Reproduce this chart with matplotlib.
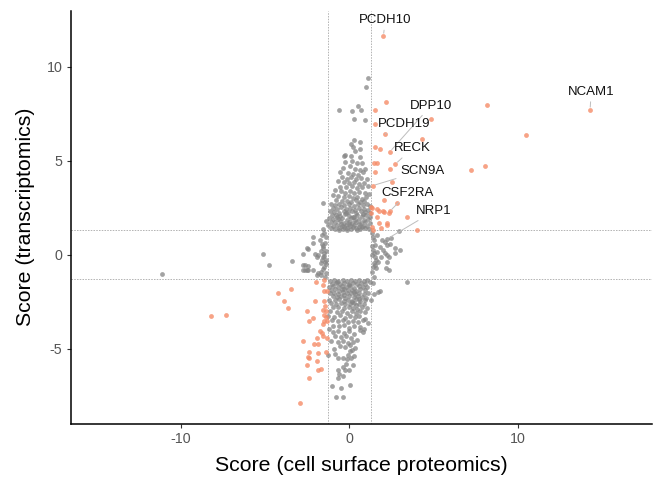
import matplotlib
matplotlib.use("Agg")
import matplotlib.pyplot as plt
import numpy as np

# ---------------- data ----------------
# Non-significant / discordant genes (grey)
grey_x = [
    # upper cluster
    1.11, 0.99, 0.51, -0.64, 0.14, 0.69, 0.27, 0.95, 0.27, 0.63, 0.08, 0.20, 0.35, 0.63, -0.24, 0.11, 0.63, -0.30,
    -0.26, 0.14, 0.43, 0.73, 0.04, -0.36, 0.33, 0.63, 0.93, -0.56, -0.10, 0.22, 0.50, 0.83,
    -0.46, -0.16, 0.10, 0.40, 0.70, 1.03, -0.70, -0.30, 0.00, 0.28, 0.55, 0.85, -0.55, -0.20, 0.15, 0.45, 0.75, 1.10,
    -0.85, -0.50, -0.25, 0.05, 0.30, 0.58, 0.90, 1.18, -0.95, -0.65, -0.35, -0.05, 0.20, 0.48, 0.72, 1.00,
    -0.78, -0.45, -0.15, 0.12, 0.38, 0.62, 0.88,
    -1.10, -0.85, -0.60, -0.30, -0.05, 0.25, 0.50, 0.78, 1.05, 1.22, -1.00, -0.72, -0.48, -0.20, 0.05, 0.32, 0.58, 0.85, 1.12,
    -1.18, -0.90, -0.62, -0.35, -0.10, 0.15, 0.42, 0.68, 0.95, 1.25,
    -1.05, -0.80, -0.55, -0.28, -0.02, 0.22, 0.48, 0.72, 1.00, 1.20, -1.22, -0.95, -0.68, -0.42, -0.15, 0.10, 0.35, 0.60, 0.88, 1.12,
    -1.10, -0.85, -0.58, -0.32, -0.05, 0.18, 0.42, 0.70, 0.95, 1.22, -1.25, -0.98, -0.72, -0.45, -0.20, 0.05, 0.28, 0.55, 0.80, 1.05,
    -1.12, -0.88, -0.62, -0.38, -0.12, 0.12, 0.38, 0.65, 0.90, 1.18,
    -0.50, 0.00, 0.30, -0.22, 0.58, -0.75, 0.82, -0.35, 0.45, -0.15, 0.20, -0.60, 0.75,
    -1.55, -1.59, -1.42,
    # middle band, left
    -11.12, -5.12, -4.78, -3.41, -2.74, -2.18, -2.48, -2.74, -2.44, -2.66, -2.44,
    -1.75, -1.65, -1.59, -1.51, -1.59, -1.45, -1.51, -1.85, -1.71, -2.04, -1.85, -1.94, -1.69, -1.39,
    -1.40, -1.48, -1.62, -1.45, -1.55, -1.42, -1.68, -1.48, -1.62, -1.42, -1.55, -1.40, -1.70, -1.45,
    -2.50, -1.94, -2.14, -2.64, -2.50, -2.74, -2.14,
    # middle band, right
    1.32, 1.46, 1.52, 1.38, 1.46, 1.32, 1.62, 1.58, 1.46, 1.72, 1.38, 1.58, 1.46,
    1.92, 2.12, 2.21, 2.01, 2.12, 2.25, 2.37, 2.25, 2.17, 2.37, 2.49, 2.41, 2.73, 3.01, 2.71, 2.97, 2.21,
    1.40, 1.35, 1.55, 1.35, 1.62, 1.80, 1.85, 1.50,
    # lower cluster
    -1.15, -0.90, -0.65, -0.40, -0.15, 0.10, 0.35, 0.60, 0.85, 1.05, -1.05, -0.80, -0.55, -0.30, -0.05, 0.20, 0.45, 0.70, 0.95, 1.20,
    -1.20, -0.95, -0.70, -0.45, -0.20, 0.05, 0.30, 0.55, 0.80, 1.02, -1.10, -0.85, -0.60, -0.35, -0.10, 0.15, 0.40, 0.65, 0.90,
    -1.15, -0.90, -0.65, -0.40, -0.15, 0.10, 0.35, 0.60, 0.85, 1.10, -1.00, -0.75, -0.50, -0.25, 0.00, 0.25, 0.50, 0.75, 1.00,
    -1.20, -0.85, -0.60, -0.35, -0.10, 0.15, 0.40, 0.65, 0.90, 1.26,
    -1.10, -0.80, -0.50, -0.25, 0.05, 0.30, 0.55, 0.85, -0.95, -0.65, -0.35, -0.05, 0.20, 0.45, 0.75, 1.05,
    -1.15, -0.75, -0.45, -0.15, 0.15, 0.40, 0.65, 0.95,
    -1.25, -0.90, -0.55, -0.25, 0.05, 0.35, 0.60, 0.90, -1.05, -0.70, -0.40, -0.10, 0.20, 0.50, 0.80, 1.12,
    -0.95, -0.60, -0.30, 0.00, 0.30, 0.62, -1.20, 0.85,
    -1.00, -0.65, -0.35, -0.05, 0.25, 0.63, 0.79, -0.85, -0.50, -0.20, 0.10, 0.43, -1.10, -0.70, -0.40, -0.10, 0.20,
    -0.55, -0.25, 0.05, 0.35, -0.90, 0.14, 0.04,
    -1.25, -0.06, -0.66, -0.40, -0.16, 0.08, -0.20, -0.40, 0.23, -0.66, -0.26, -0.01, -0.60, -0.36, -0.66,
    -1.05, -0.50, 0.04, -0.80, -0.40, -0.85, 0.30,
    -0.02, 0.30, -0.30, 0.55, -0.75, 0.15, -0.45, 0.40,
    # lower right
    1.68, 3.40, 1.82, 1.40, 1.45,
]
grey_y = [
    # upper cluster
    9.41, 8.94, 7.91, 7.70, 7.64, 7.70, 7.23, 7.16, 6.10, 6.01, 5.89, 5.74, 5.53, 5.61, 5.29, 5.25, 5.21, 5.27,
    4.95, 4.98, 4.85, 4.90, 4.70, 4.62, 4.55, 4.50, 4.58, 4.40, 4.35, 4.30, 4.25, 4.38,
    4.15, 4.05, 4.12, 4.00, 4.08, 4.02, 3.90, 3.85, 3.80, 3.88, 3.75, 3.80, 3.62, 3.58, 3.65, 3.55, 3.60, 3.66,
    3.42, 3.38, 3.30, 3.40, 3.28, 3.35, 3.30, 3.22, 3.15, 3.10, 3.05, 3.12, 3.00, 3.08, 2.98, 3.05,
    2.90, 2.85, 2.88, 2.82, 2.92, 2.80, 2.86,
    2.70, 2.65, 2.72, 2.62, 2.68, 2.60, 2.70, 2.64, 2.72, 2.58, 2.48, 2.45, 2.52, 2.42, 2.50, 2.40, 2.48, 2.44, 2.38,
    2.30, 2.28, 2.24, 2.32, 2.26, 2.34, 2.22, 2.30, 2.25, 2.20,
    2.12, 2.10, 2.05, 2.15, 2.08, 2.02, 2.12, 2.06, 2.10, 2.00, 1.95, 1.92, 1.88, 1.96, 1.86, 1.94, 1.85, 1.92, 1.86, 1.90,
    1.76, 1.72, 1.78, 1.70, 1.75, 1.68, 1.74, 1.70, 1.76, 1.68, 1.58, 1.55, 1.60, 1.52, 1.58, 1.50, 1.56, 1.48, 1.55, 1.52,
    1.40, 1.38, 1.42, 1.36, 1.44, 1.37, 1.42, 1.35, 1.40, 1.37,
    1.62, 1.62, 1.98, 2.22, 1.62, 2.00, 2.18, 1.47, 1.32, 1.33, 1.45, 1.32, 1.45,
    2.73, 1.37, 1.80,
    # middle band, left
    -1.01, 0.02, -0.55, -0.35, 0.04, 0.93, 0.32, -0.56, -0.59, -0.81, -0.81,
    0.78, 0.57, 0.34, 0.07, -0.14, -0.37, -0.64, -0.99, -0.90, 0.02, -0.02, -0.14, -0.43, -0.28,
    0.95, 1.15, 1.05, 0.62, 0.45, 0.20, 0.20, -0.05, -0.30, -0.52, -0.78, -0.95, -1.10, -1.18,
    0.34, -1.08, -0.81, -0.55, -0.81, -0.81, 0.60,
    # middle band, right
    1.14, 0.78, 0.52, 0.25, 0.07, -0.02, 0.16, -0.28, -0.46, -0.37, -0.64, -0.72, -1.20,
    0.78, 0.69, 0.52, 0.25, 0.07, -0.02, -0.14, -0.37, -0.72, -0.81, 0.87, 0.57, 0.34, 0.25, 0.07, 1.26, 0.82,
    0.95, 0.45, -0.10, -0.90, 1.05, 0.40, -0.15, -0.55,
    # lower cluster
    -1.38, -1.35, -1.40, -1.36, -1.42, -1.35, -1.40, -1.37, -1.42, -1.36, -1.55, -1.52, -1.58, -1.50, -1.56, -1.52, -1.58, -1.50, -1.55, -1.48,
    -1.70, -1.68, -1.74, -1.66, -1.72, -1.68, -1.75, -1.66, -1.72, -1.70, -1.88, -1.85, -1.92, -1.84, -1.90, -1.86, -1.93, -1.85, -1.90,
    -2.05, -2.02, -2.08, -2.00, -2.06, -2.02, -2.10, -2.03, -2.08, -2.05, -2.22, -2.25, -2.18, -2.28, -2.20, -2.26, -2.18, -2.24, -2.30,
    -2.40, -2.42, -2.38, -2.45, -2.40, -2.46, -2.38, -2.44, -2.40, -2.41,
    -2.58, -2.62, -2.55, -2.65, -2.60, -2.56, -2.64, -2.60, -2.80, -2.78, -2.84, -2.76, -2.82, -2.88, -2.80, -2.85,
    -3.00, -3.05, -2.98, -3.08, -3.02, -3.10, -3.00, -3.06,
    -3.25, -3.30, -3.22, -3.35, -3.28, -3.32, -3.25, -3.40, -3.50, -3.55, -3.48, -3.60, -3.52, -3.58, -3.50, -3.65,
    -3.78, -3.82, -3.75, -3.88, -3.80, -3.85, -3.95, -3.98,
    -4.10, -4.05, -4.15, -4.08, -4.20, -4.02, -4.10, -4.35, -4.40, -4.32, -4.45, -4.54, -4.60, -4.65, -4.58, -4.70, -4.62,
    -4.85, -4.90, -4.82, -4.95, -5.00, -5.07, -5.12,
    -5.34, -5.34, -5.51, -5.51, -5.55, -5.51, -5.83, -5.96, -5.87, -6.13, -6.13, -6.13, -6.36, -6.44, -6.57,
    -6.97, -7.11, -6.93, -7.59, -7.55, -5.30, -5.40,
    -1.62, -1.98, -2.12, -2.35, -1.45, -2.52, -1.80, -2.70,
    # lower right
    -1.97, -1.44, -1.93, -1.50, -2.10,
]

# Concordant hits (both scores beyond threshold)
hit_x = [
    2.02, 2.17, 1.54, 4.83, 1.54, 2.13, 4.31, 1.54, 1.82, 2.41, 1.46, 1.66, 2.73, 2.41, 7.24, 1.50, 1.38,
    2.53, 2.06, 2.81, 1.30, 1.62, 1.74, 2.06, 2.41, 2.37, 3.40, 1.30, 1.62, 2.22, 1.74, 1.34, 1.90, 4.00,
    8.19, 10.49, 8.04, 14.30, 1.98, 2.25, 1.38, 1.32,
    -2.00, -1.51, -1.55, -1.49, -1.33, -4.24, -3.49, -3.89, -3.65, -2.04, -1.53, -1.43, -2.50, -1.55, -1.37,
    -2.14, -2.42, -1.51, -1.39, -1.53, -1.35, -1.59, -1.75, -1.65, -1.59, -1.94, -1.31, -2.74, -2.08, -1.85,
    -2.38, -1.87, -1.39, -2.48, -2.38, -2.52, -1.94, -1.85, -1.71, -2.42, -2.95, -8.22, -7.33,
]
hit_y = [
    11.63, 8.10, 7.70, 7.22, 6.95, 6.42, 6.17, 5.73, 5.64, 5.48, 4.89, 4.89, 4.82, 4.57, 4.50, 4.38, 3.67,
    3.87, 2.93, 2.75, 2.52, 2.41, 2.31, 2.29, 2.31, 2.20, 2.01, 2.20, 2.02, 1.70, 1.70, 1.46, 1.42, 1.33,
    7.95, 6.35, 4.72, 7.70, 2.32, 1.58, 1.31, 2.47,
    -1.45, -1.35, -1.60, -1.91, -1.91, -2.02, -1.81, -2.45, -2.84, -2.46, -2.46, -2.73, -2.99, -2.96, -3.01,
    -3.37, -3.51, -3.19, -3.30, -3.53, -3.51, -3.69, -4.04, -4.18, -4.32, -4.45, -4.43, -4.59, -4.77, -4.75,
    -5.16, -5.25, -5.18, -5.46, -5.51, -5.85, -5.65, -6.13, -6.06, -6.57, -7.87, -3.27, -3.21,
]

# Labelled genes: point coordinates
label_genes = ["PCDH10", "NCAM1", "DPP10", "PCDH19", "RECK", "SCN9A", "CSF2RA", "NRP1"]
label_x = [2.02, 14.30, 2.41, 2.13, 2.73, 1.38, 2.41, 2.21]
label_y = [11.63, 7.70, 5.48, 6.42, 4.82, 3.67, 2.31, 0.82]

x_ticks = [-10, 0, 10]
y_ticks = [-5, 0, 5, 10]
threshold = 1.3

# ---------------- plot ----------------
plt.rcParams['font.family'] = ['Liberation Sans', 'DejaVu Sans']
plt.rcParams['axes.unicode_minus'] = False

W, H = 654, 483
fig = plt.figure(figsize=(W / 100, H / 100), dpi=100)
ax = fig.add_axes([70.7 / W, 1 - 423.5 / H, (652 - 70.7) / W, (423.5 - 11) / H])

ax.set_xlim(-16.56, 17.98)
ax.set_ylim(-8.98, 12.96)

line_kw = dict(color='#a0a0a0', lw=0.55, dashes=(2.0, 1.6), zorder=1)
for v in (-threshold, threshold):
    ax.axvline(v, **line_kw)
    ax.axhline(v, **line_kw)

ax.scatter(grey_x, grey_y, s=12, color='#858585', alpha=0.75, linewidths=0, zorder=2)
ax.scatter(hit_x, hit_y, s=12, color='#F58C68', alpha=0.8, linewidths=0, zorder=3)

# label text offsets (data units, layout only)
offsets = {
    "PCDH10": (0.11, 0.85),
    "NCAM1": (0.07, 0.97),
    "DPP10": (2.44, 2.45),
    "PCDH19": (1.11, 0.53),
    "RECK": (1.03, 0.84),
    "SCN9A": (2.95, 0.80),
    "CSF2RA": (1.07, 0.99),
    "NRP1": (2.82, 1.50),
}
for g, px, py in zip(label_genes, label_x, label_y):
    dx, dy = offsets[g]
    ax.annotate(g, xy=(px, py), xytext=(px + dx, py + dy), textcoords='data',
                ha='center', va='center', fontsize=9.5, color='#111111', zorder=4,
                arrowprops=dict(arrowstyle='-', color='#bdbdbd', lw=0.7,
                                shrinkA=1, shrinkB=2))

for s in ('top', 'right'):
    ax.spines[s].set_visible(False)
for s in ('left', 'bottom'):
    ax.spines[s].set_linewidth(1.1)
    ax.spines[s].set_color('black')

ax.set_xticks(x_ticks)
ax.set_yticks(y_ticks)
ax.tick_params(axis='both', direction='out', length=3, width=0.8, color='#333333',
               labelsize=10.3, labelcolor='#555555', pad=3)

ax.set_xlabel('Score (cell surface proteomics)', fontsize=15.3, color='black', labelpad=7)
ax.set_ylabel('Score (transcriptomics)', fontsize=15.3, color='black', labelpad=8)

fig.savefig('out.png', dpi=100)
